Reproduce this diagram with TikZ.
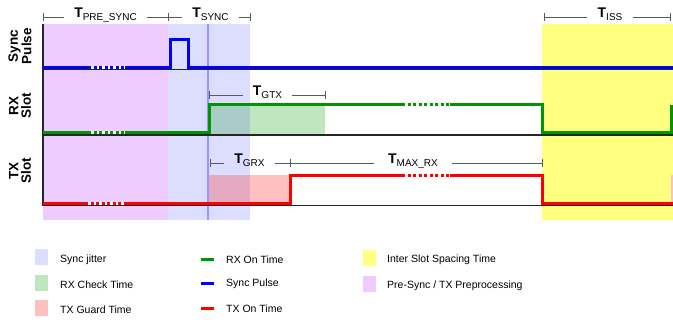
\documentclass[tikz,border=0pt]{standalone}
\usepackage{fontspec}
\setmainfont{Liberation Sans}
\definecolor{cpre}{RGB}{238,204,255}
\definecolor{cjit}{RGB}{221,221,255}
\definecolor{ciss}{RGB}{255,255,128}
\definecolor{cchk}{RGB}{192,230,192}
\definecolor{cchkj}{RGB}{170,204,200}
\definecolor{cgrd}{RGB}{255,192,192}
\definecolor{cgrdj}{RGB}{230,170,192}
\definecolor{cjline}{RGB}{150,150,255}
\definecolor{cblue}{RGB}{0,0,255}
\definecolor{cgreen}{RGB}{0,150,0}
\definecolor{cred}{RGB}{255,0,0}
\definecolor{cdim}{RGB}{90,90,90}
\newcommand{\tlab}[1]{{\fontsize{14}{14}\selectfont\bfseries T}{\fontsize{10}{10}\selectfont\raisebox{-3pt}{#1}}}
\begin{document}
\begin{tikzpicture}[x=1pt,y=-1pt,
  dim/.style={draw=cdim,line width=0.7pt},
  tl/.style={anchor=base,inner xsep=10pt,inner ysep=0pt},
  base/.style={draw=black!85,line width=1.4pt},
  sig/.style={line width=3pt,line join=miter},
  gapw/.style={draw=white,line width=3pt},
  dotsig/.style={line width=3pt,dash pattern=on 3pt off 2.5pt},
  ylab/.style={rotate=90,align=center,font=\fontsize{13.5}{12.5}\selectfont\bfseries},
  legt/.style={anchor=west,font=\fontsize{10.5}{12}\selectfont,inner sep=0pt},
  legsq/.style={minimum width=13pt,minimum height=16pt,inner sep=0pt},
  legln/.style={line width=3pt}]
\useasboundingbox (0,0) rectangle (673,325);
% background regions
\fill[cpre] (43,24) rectangle (168,220);
\fill[cjit] (168,24) rectangle (250,220);
\fill[ciss] (542,24) rectangle (673,220);
\fill[cchk] (209,105) rectangle (325,134);
\fill[cchkj] (209,105) rectangle (250,134);
\fill[cgrd] (209,175) rectangle (290,204);
\fill[cgrdj] (209,175) rectangle (250,204);
\fill[cgrd] (671,175) rectangle (673,204);
\draw[cjline,line width=1.2pt] (208,24) -- (208,220);
% baselines and axis
\draw[base] (43,69.5) -- (673,69.5);
\draw[base] (43,135) -- (673,135);
\draw[base] (43,205.5) -- (673,205.5);
\draw[base] (43,24) -- (43,206);
% sync pulse
\draw[sig,cblue] (43,67) -- (88,67);
\draw[gapw] (88,67) -- (125,67);
\draw[dotsig,cblue] (88,67) -- (125,67);
\draw[sig,cblue] (125,67) -- (170,67) -- (170,39.5) -- (188,39.5) -- (188,67) -- (673,67);
% RX slot
\draw[sig,cgreen] (43,132.5) -- (88,132.5);
\draw[gapw] (88,132.5) -- (125,132.5);
\draw[dotsig,cgreen] (88,132.5) -- (125,132.5);
\draw[sig,cgreen] (125,132.5) -- (209,132.5) -- (209,104.5) -- (402,104.5);
\draw[gapw] (402,104.5) -- (450,104.5);
\draw[dotsig,cgreen] (402,104.5) -- (450,104.5);
\draw[sig,cgreen] (450,104.5) -- (542,104.5) -- (542,132.5) -- (671,132.5) -- (671,104.5);
% TX slot
\draw[sig,cred] (43,203) -- (85,203);
\draw[gapw] (85,203) -- (127,203);
\draw[dotsig,cred] (85,203) -- (127,203);
\draw[sig,cred] (127,203) -- (290,203) -- (290,175.5) -- (402,175.5);
\draw[gapw] (402,175.5) -- (450,175.5);
\draw[dotsig,cred] (402,175.5) -- (450,175.5);
\draw[sig,cred] (450,175.5) -- (542,175.5) -- (542,203) -- (673,203);
% axis labels
\node[ylab] (ysync) at (20,46) {Sync\\Pulse};
\node[ylab] (yrx) at (20,106) {RX\\Slot};
\node[ylab] (ytx) at (20,171) {TX\\Slot};
% dimension marks
\coordinate (p1) at (43,17); \coordinate (p2) at (168,17); \coordinate (p3) at (250,17);
\coordinate (i1) at (544,17); \coordinate (i2) at (670,17);
\coordinate (g1) at (209,95); \coordinate (g2) at (325,95);
\coordinate (r1) at (210,163); \coordinate (r2) at (290,163); \coordinate (r3) at (542,163);
\foreach \c in {p1,p2,p3,i1,i2,g1,g2,r1,r2,r3}{
  \draw[dim] ([yshift=-4pt]\c) -- ([yshift=4pt]\c);}
\node[tl] (lpre) at (105.5,17) {\tlab{PRE\_SYNC}};
\node[tl] (lsync) at (210.5,17) {\tlab{SYNC}};
\node[tl] (liss) at (610,17) {\tlab{ISS}};
\node[tl] (lgtx) at (267.5,95.5) {\tlab{GTX}};
\node[tl] (lgrx) at (249.5,163.5) {\tlab{GRX}};
\node[tl,inner xsep=14pt] (lmax) at (413,163.5) {\tlab{MAX\_RX}};
\draw[dim] (p1) -- (lpre.west |- p1);  \draw[dim] (lpre.east |- p1) -- (p2);
\draw[dim] (p2) -- (lsync.west |- p2); \draw[dim] (lsync.east |- p2) -- (p3);
\draw[dim] (i1) -- (liss.west |- i1);  \draw[dim] (liss.east |- i1) -- (i2);
\draw[dim] (g1) -- (lgtx.west |- g1);  \draw[dim] (lgtx.east |- g1) -- (g2);
\draw[dim] (r1) -- (lgrx.west |- r1);  \draw[dim] (lgrx.east |- r1) -- (r2);
\draw[dim] (r2) -- (lmax.west |- r2);  \draw[dim] (lmax.east |- r2) -- (r3);
% legend column 1
\node[legsq,fill=cjit] (s1) at (41.5,257) {};
\node[legsq,fill=cchk] (s2) at (41.5,282.5) {};
\node[legsq,fill=cgrd] (s3) at (41.5,307.5) {};
\node[legt] (t1) at (60,259.5) {Sync jitter};
\node[legt] (t2) at (60,285) {RX Check Time};
\node[legt] (t3) at (60,309.5) {TX Guard Time};
% legend column 2
\coordinate (a1) at (201,259); \coordinate (b1) at (214,259);
\coordinate (a2) at (201,283); \coordinate (b2) at (214,283);
\coordinate (a3) at (201,308); \coordinate (b3) at (214,308);
\draw[legln,cgreen] (a1) -- (b1);
\draw[legln,cblue] (a2) -- (b2);
\draw[legln,cred] (a3) -- (b3);
\node[legt] (t4) at (226,259.5) {RX On Time};
\node[legt] (t5) at (226,284) {Sync Pulse};
\node[legt] (t6) at (226,309) {TX On Time};
% legend column 3
\node[legsq,fill=ciss] (s4) at (369,258) {};
\node[legsq,fill=cpre] (s5) at (369,284) {};
\node[legt] (t7) at (387,260) {Inter Slot Spacing Time};
\node[legt] (t8) at (387,286) {Pre-Sync / TX Preprocessing};
\end{tikzpicture}
\end{document}
